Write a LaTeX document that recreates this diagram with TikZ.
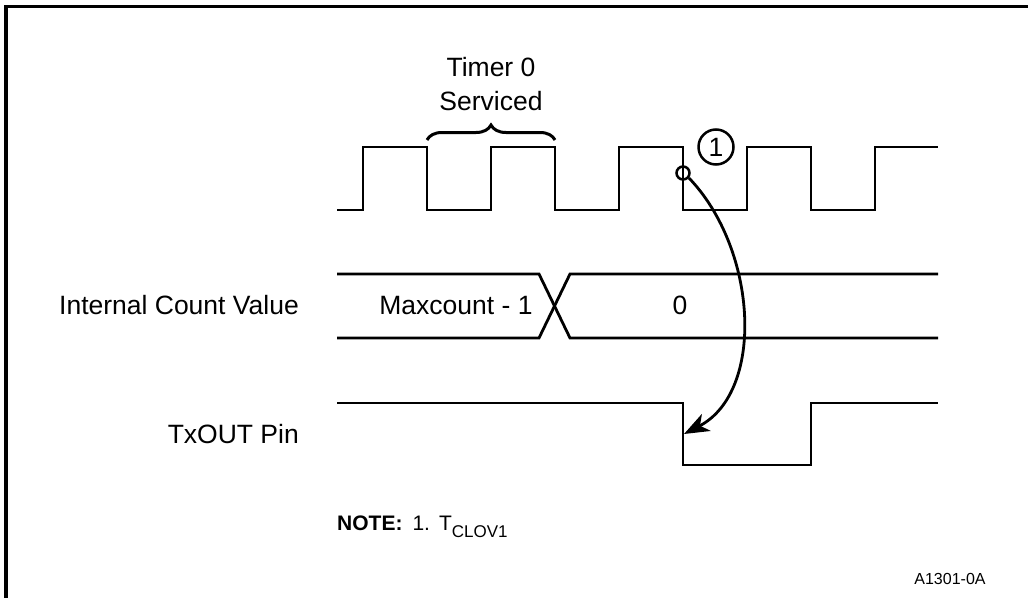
\documentclass[tikz,border=0pt]{standalone}
\usepackage{fontspec}
\setmainfont{Liberation Sans}
\usetikzlibrary{arrows.meta,decorations.pathreplacing}
\begin{document}
\begin{tikzpicture}[x=1pt,y=-1pt,
  wave/.style={line width=2.8pt, line join=miter},
  lbl/.style={font=\fontsize{26.5}{31}\selectfont, inner sep=0pt},
  ring/.style={circle, draw, line width=2.5pt, inner sep=0pt},
]
\useasboundingbox (0,0) rectangle (1028,597);
% frame
\draw[line width=3.2pt] (6,600) -- (6,6.5) -- (1030,6.5);
% clock
\draw[wave] (337,210) -- (363,210) -- (363,147) -- (427,147) -- (427,210)
  -- (491,210) -- (491,147) -- (555,147) -- (555,210)
  -- (619,210) -- (619,147) -- (683,147) -- (683,210)
  -- (747,210) -- (747,147) -- (811,147) -- (811,210)
  -- (875,210) -- (875,147) -- (938,147);
% brace
\draw[line width=3pt, decorate, decoration={brace, amplitude=15pt}] (427,140) -- (555,140);
\node[lbl, anchor=base] (timer) at (491,76) {Timer 0};
\node[lbl, anchor=base] (serv) at (491,110) {Serviced};
% internal count bus
\draw[wave] (337,274) -- (539,274) -- (570,338) -- (938,338);
\draw[wave] (337,338) -- (539,338) -- (570,274) -- (938,274);
\node[lbl, anchor=base east] (icv) at (299,314) {Internal Count Value};
\node[lbl, anchor=base] (maxc) at (456,314) {Maxcount - 1};
\node[lbl, anchor=base] (zero) at (680,314) {0};
% TxOUT
\draw[wave] (337,403) -- (683,403) -- (683,465) -- (811,465) -- (811,403) -- (938,403);
\node[lbl, anchor=base east] (tx) at (299,443) {TxOUT Pin};
% note marker
\node[ring, minimum size=35pt, font=\fontsize{26.5}{31}\selectfont] (c1) at (716,147) {1};
\node[ring, minimum size=13pt] (sc) at (683,173) {};
\coordinate (tip) at (684,434);
\draw[line width=2.8pt, -{Stealth[length=25pt,width=19pt,inset=7pt]}]
  (sc.-40) .. controls (758,250) and (765,392) .. (tip);
% note
\node[anchor=base west, inner sep=0pt, font=\fontsize{21}{25}\selectfont] (note) at (337,530)
  {\textbf{NOTE:}\hspace{10pt}1.\hspace{9pt}T\raisebox{-7pt}{\fontsize{17}{20}\selectfont CLOV1}};
\node[anchor=base, inner sep=0pt, font=\fontsize{16}{19}\selectfont] (code) at (950,584) {A1301-0A};
\end{tikzpicture}
\end{document}
